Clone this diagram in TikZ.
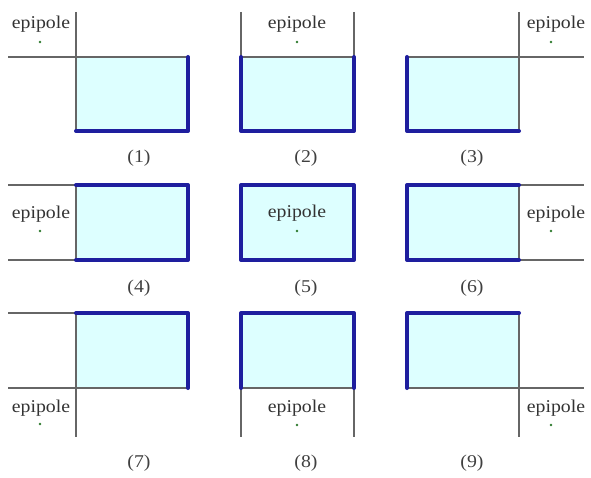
\documentclass[tikz,border=0pt]{standalone}
\usepackage{fontspec}
\setmainfont{Liberation Serif}[FakeStretch=1.1]
\definecolor{boxfill}{HTML}{DDFFFF}
\definecolor{edgeblue}{HTML}{1E1E9E}
\definecolor{guide}{HTML}{666666}
\definecolor{epidot}{HTML}{2E7A2E}
\tikzset{
  guideline/.style={draw=guide, line width=1.5pt},
  boxbody/.style={fill=boxfill, draw=guide, line width=1.2pt},
  hiedge/.style={draw=edgeblue, line width=4pt, line cap=round, line join=round},
  epilabel/.style={inner sep=0pt, text=black!80, font=\fontsize{18}{20}\selectfont},
  numlabel/.style={inner sep=0pt, font=\fontsize{18}{20}\selectfont, text=black!75},
  epipt/.style={fill=epidot, draw=none}
}
\begin{document}
\begin{tikzpicture}[x=1pt, y=-1pt]
\useasboundingbox (0,0) rectangle (591,478);
% ---------- Row 1 ----------
% (1)
\draw[guideline] (76,12) -- (76,57);
\draw[guideline] (8,57) -- (76,57);
\draw[boxbody] (76,57) rectangle (188,131);
\draw[hiedge] (188,57) -- (188,131) -- (76,131);
\node[epilabel] (e1) at (41,24) {epipole};
\fill[epipt] (40,42) circle (1.4);
\node[numlabel] (n1) at (139,158) {(1)};
% (2)
\draw[guideline] (241,12) -- (241,57);
\draw[guideline] (354,12) -- (354,57);
\draw[boxbody] (241,57) rectangle (354,131);
\draw[hiedge] (241,57) -- (241,131) -- (354,131) -- (354,57);
\node[epilabel] (e2) at (297,24) {epipole};
\fill[epipt] (297,42) circle (1.4);
\node[numlabel] (n2) at (306,158) {(2)};
% (3)
\draw[guideline] (519,12) -- (519,57);
\draw[guideline] (519,57) -- (584,57);
\draw[boxbody] (407,57) rectangle (519,131);
\draw[hiedge] (407,57) -- (407,131) -- (519,131);
\node[epilabel] (e3) at (556,24) {epipole};
\fill[epipt] (551,42) circle (1.4);
\node[numlabel] (n3) at (472,158) {(3)};
% ---------- Row 2 ----------
% (4)
\draw[guideline] (8,185) -- (76,185);
\draw[guideline] (8,260) -- (76,260);
\draw[boxbody] (76,185) rectangle (188,260);
\draw[hiedge] (76,185) -- (188,185) -- (188,260) -- (76,260);
\node[epilabel] (e4) at (41,214) {epipole};
\fill[epipt] (40,231) circle (1.4);
\node[numlabel] (n4) at (139,288) {(4)};
% (5)
\draw[boxbody] (241,185) rectangle (354,260);
\draw[hiedge] (241,185) rectangle (354,260);
\node[epilabel] (e5) at (297,213) {epipole};
\fill[epipt] (297,231) circle (1.4);
\node[numlabel] (n5) at (306,288) {(5)};
% (6)
\draw[guideline] (519,185) -- (584,185);
\draw[guideline] (519,260) -- (584,260);
\draw[boxbody] (407,185) rectangle (519,260);
\draw[hiedge] (519,185) -- (407,185) -- (407,260) -- (519,260);
\node[epilabel] (e6) at (556,214) {epipole};
\fill[epipt] (551,231) circle (1.4);
\node[numlabel] (n6) at (472,288) {(6)};
% ---------- Row 3 ----------
% (7)
\draw[guideline] (8,313) -- (76,313);
\draw[guideline] (8,388) -- (76,388);
\draw[guideline] (76,388) -- (76,437);
\draw[boxbody] (76,313) rectangle (188,388);
\draw[hiedge] (76,313) -- (188,313) -- (188,388);
\node[epilabel] (e7) at (41,408) {epipole};
\fill[epipt] (40,424) circle (1.4);
\node[numlabel] (n7) at (139,463) {(7)};
% (8)
\draw[guideline] (241,388) -- (241,437);
\draw[guideline] (354,388) -- (354,437);
\draw[boxbody] (241,313) rectangle (354,388);
\draw[hiedge] (241,388) -- (241,313) -- (354,313) -- (354,388);
\node[epilabel] (e8) at (297,408) {epipole};
\fill[epipt] (297,425) circle (1.4);
\node[numlabel] (n8) at (306,463) {(8)};
% (9)
\draw[guideline] (519,388) -- (584,388);
\draw[guideline] (519,388) -- (519,437);
\draw[boxbody] (407,313) rectangle (519,388);
\draw[hiedge] (407,388) -- (407,313) -- (519,313);
\node[epilabel] (e9) at (556,408) {epipole};
\fill[epipt] (551,425) circle (1.4);
\node[numlabel] (n9) at (472,463) {(9)};
\end{tikzpicture}
\end{document}
